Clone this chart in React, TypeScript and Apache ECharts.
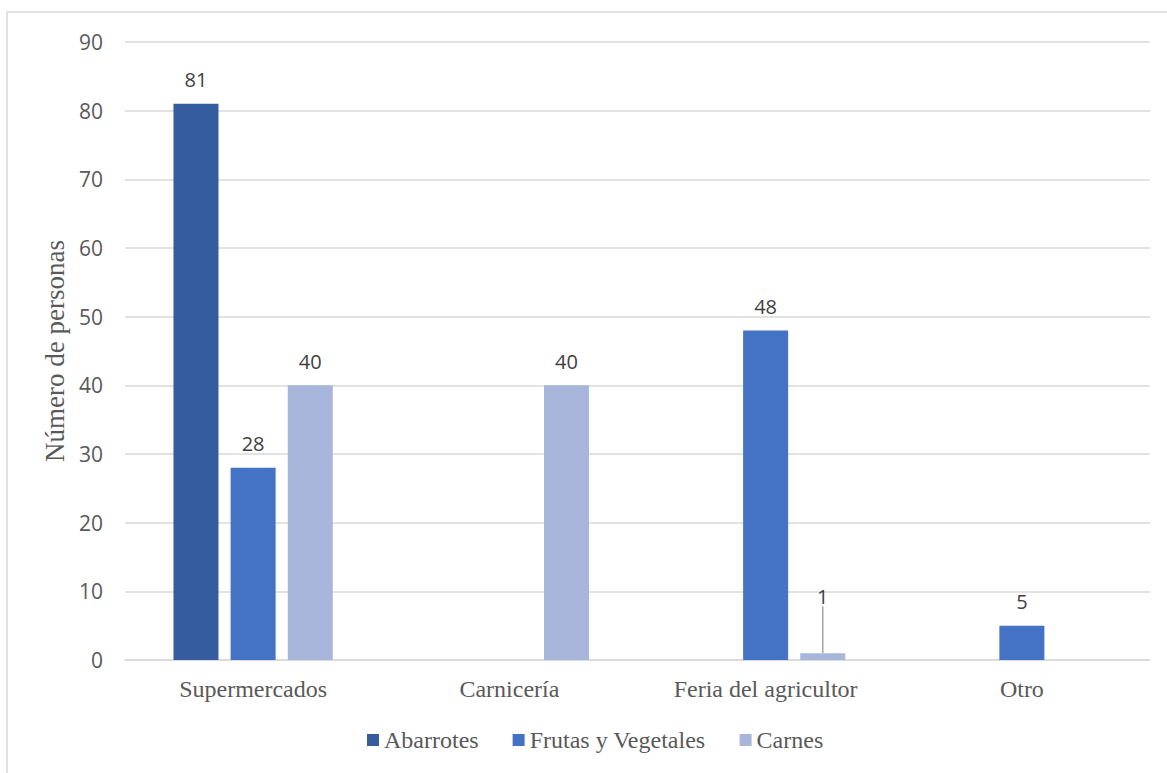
import React, { useEffect, useRef } from "react";
import * as echarts from "echarts";

const categories = ["Supermercados", "Carnicería", "Feria del agricultor", "Otro"];
const abarrotes = [81, null, null, null];
const frutas = [28, null, 48, 5];
const carnes = [40, 40, 1, null];
const yTicks = { min: 0, max: 90, interval: 10 };

export default function App() {
  const ref = useRef<HTMLDivElement>(null);
  useEffect(() => {
    const chart = echarts.init(ref.current!, null, { renderer: "svg" });
    const labelStyle = {
      show: true,
      position: "top" as const,
      distance: 14,
      fontFamily: "Open Sans, Noto Sans, sans-serif",
      fontSize: 20,
      color: "#404040",
    };
    const carnesData = carnes.map((v, i) =>
      i === 2 ? { value: v, labelLine: { show: true } } : v
    );
    chart.setOption({
      animation: false,
      backgroundColor: "#ffffff",
      graphic: [
        {
          type: "rect",
          shape: { x: 7, y: 12, width: 1200, height: 800 },
          style: { fill: "none", stroke: "#d9d9d9", lineWidth: 1.5 },
          silent: true,
          z: -1,
        },
      ],
      grid: { left: 125, right: 17, top: 42, bottom: 113 },
      legend: {
        left: 362,
        top: 723,
        itemWidth: 12,
        itemHeight: 12,
        itemGap: 34,
        icon: "rect",
        textStyle: { fontFamily: "Liberation Serif, serif", fontSize: 24, color: "#595959" },
        data: ["Abarrotes", "Frutas y Vegetales", "Carnes"],
      },
      xAxis: {
        type: "category",
        data: categories,
        axisLine: { show: true, lineStyle: { color: "#d9d9d9", width: 1.5 } },
        axisTick: { show: false },
        axisLabel: { fontFamily: "Liberation Serif, serif", fontSize: 24, color: "#595959", margin: 17 },
      },
      yAxis: {
        type: "value",
        min: yTicks.min,
        max: yTicks.max,
        interval: yTicks.interval,
        name: "Número de personas",
        nameLocation: "middle",
        nameGap: 57,
        nameTextStyle: { fontFamily: "Liberation Serif, serif", fontSize: 27, color: "#595959" },
        axisLine: { show: false },
        axisTick: { show: false },
        axisLabel: { fontFamily: "Open Sans, Noto Sans, sans-serif", fontSize: 21, color: "#595959", margin: 22 },
        splitLine: { lineStyle: { color: "#d9d9d9", width: 1.5 } },
      },
      series: [
        {
          name: "Abarrotes",
          type: "bar",
          data: abarrotes,
          barWidth: 45,
          barGap: "27%",
          itemStyle: { color: "#345c9f" },
          label: labelStyle,
        },
        {
          name: "Frutas y Vegetales",
          type: "bar",
          data: frutas,
          barWidth: 45,
          barGap: "27%",
          itemStyle: { color: "#4472c4" },
          label: labelStyle,
        },
        {
          name: "Carnes",
          type: "bar",
          data: carnesData,
          barWidth: 45,
          barGap: "27%",
          itemStyle: { color: "#a8b6dc" },
          label: labelStyle,
          labelLine: { show: false, lineStyle: { color: "#a6a6a6", width: 1.5 } },
          labelLayout: (p: any) => (p.dataIndex === 2 ? { dy: -33 } : {}),
        },
      ],
    });
    return () => chart.dispose();
  }, []);
  return (
    <div
      ref={ref}
      style={{ position: "absolute", left: 0, top: 0, width: 1167, height: 773 }}
    />
  );
}
